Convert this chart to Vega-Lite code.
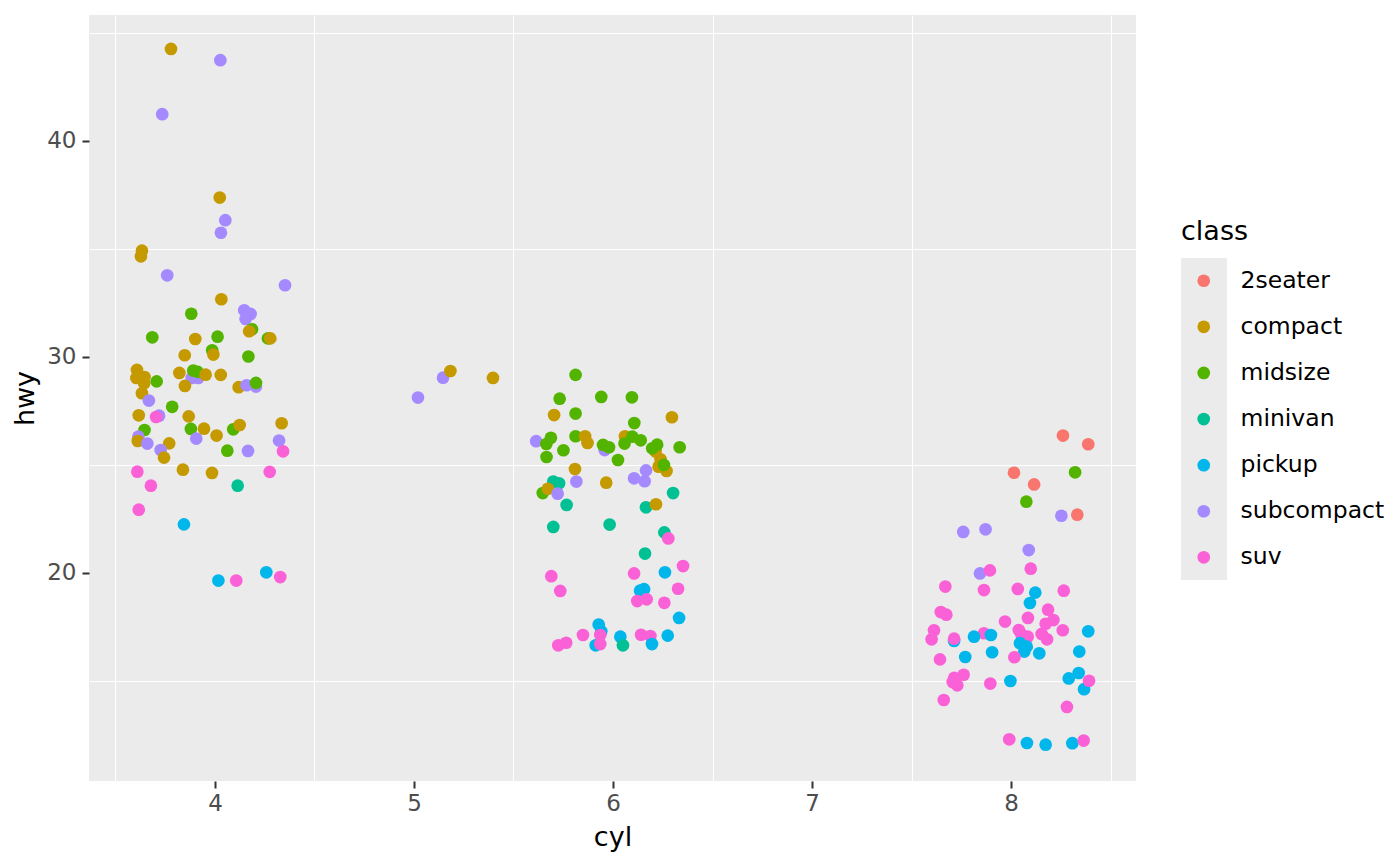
{
  "$schema": "https://vega.github.io/schema/vega-lite/v6.json",
  "width": 1047,
  "height": 766,
  "autosize": {"type": "none"},
  "padding": {"left": 89, "top": 15, "right": 264, "bottom": 85},
  "background": "white",
  "config": {
    "view": {"fill": "#EBEBEB", "stroke": null},
    "font": "DejaVu Sans",
    "axis": {
      "domain": false,
      "grid": true,
      "gridColor": "white",
      "gridWidth": 2,
      "tickColor": "#333333",
      "tickWidth": 2,
      "tickSize": 7,
      "labelColor": "#4D4D4D",
      "labelFontSize": 23,
      "titleFontSize": 27,
      "titleFontWeight": "normal",
      "titleColor": "black"
    }
  },
  "datasets": {
    "mpg": [
      {"class": "compact", "cyl": 3.779, "hwy": 44.26},
      {"class": "subcompact", "cyl": 4.027, "hwy": 43.74},
      {"class": "subcompact", "cyl": 3.735, "hwy": 41.24},
      {"class": "compact", "cyl": 4.024, "hwy": 37.38},
      {"class": "subcompact", "cyl": 4.052, "hwy": 36.33},
      {"class": "subcompact", "cyl": 4.030, "hwy": 35.75},
      {"class": "compact", "cyl": 3.633, "hwy": 34.92},
      {"class": "compact", "cyl": 3.628, "hwy": 34.66},
      {"class": "subcompact", "cyl": 3.760, "hwy": 33.78},
      {"class": "subcompact", "cyl": 4.352, "hwy": 33.32},
      {"class": "compact", "cyl": 4.032, "hwy": 32.67},
      {"class": "midsize", "cyl": 3.881, "hwy": 32.0},
      {"class": "subcompact", "cyl": 4.147, "hwy": 32.16},
      {"class": "subcompact", "cyl": 4.179, "hwy": 31.99},
      {"class": "subcompact", "cyl": 4.154, "hwy": 31.76},
      {"class": "midsize", "cyl": 4.186, "hwy": 31.28},
      {"class": "compact", "cyl": 4.172, "hwy": 31.19},
      {"class": "midsize", "cyl": 3.685, "hwy": 30.91},
      {"class": "compact", "cyl": 3.901, "hwy": 30.83},
      {"class": "midsize", "cyl": 4.013, "hwy": 30.94},
      {"class": "midsize", "cyl": 4.266, "hwy": 30.86},
      {"class": "compact", "cyl": 4.278, "hwy": 30.86},
      {"class": "compact", "cyl": 3.848, "hwy": 30.08},
      {"class": "midsize", "cyl": 3.986, "hwy": 30.31},
      {"class": "compact", "cyl": 3.992, "hwy": 30.11},
      {"class": "midsize", "cyl": 4.168, "hwy": 30.02},
      {"class": "compact", "cyl": 3.608, "hwy": 29.40},
      {"class": "compact", "cyl": 3.605, "hwy": 29.03},
      {"class": "compact", "cyl": 3.646, "hwy": 29.07},
      {"class": "compact", "cyl": 3.644, "hwy": 28.78},
      {"class": "compact", "cyl": 3.633, "hwy": 28.32},
      {"class": "midsize", "cyl": 3.707, "hwy": 28.87},
      {"class": "compact", "cyl": 3.821, "hwy": 29.26},
      {"class": "subcompact", "cyl": 3.883, "hwy": 29.03},
      {"class": "subcompact", "cyl": 3.916, "hwy": 29.03},
      {"class": "midsize", "cyl": 3.891, "hwy": 29.37},
      {"class": "midsize", "cyl": 3.913, "hwy": 29.31},
      {"class": "compact", "cyl": 3.953, "hwy": 29.18},
      {"class": "compact", "cyl": 4.029, "hwy": 29.17},
      {"class": "compact", "cyl": 3.849, "hwy": 28.66},
      {"class": "compact", "cyl": 4.119, "hwy": 28.60},
      {"class": "subcompact", "cyl": 4.159, "hwy": 28.69},
      {"class": "subcompact", "cyl": 4.206, "hwy": 28.63},
      {"class": "midsize", "cyl": 4.206, "hwy": 28.80},
      {"class": "subcompact", "cyl": 3.668, "hwy": 27.98},
      {"class": "midsize", "cyl": 3.785, "hwy": 27.69},
      {"class": "compact", "cyl": 3.617, "hwy": 27.30},
      {"class": "subcompact", "cyl": 3.719, "hwy": 27.28},
      {"class": "suv", "cyl": 3.704, "hwy": 27.22},
      {"class": "compact", "cyl": 3.868, "hwy": 27.25},
      {"class": "compact", "cyl": 4.335, "hwy": 26.93},
      {"class": "midsize", "cyl": 3.879, "hwy": 26.67},
      {"class": "compact", "cyl": 3.945, "hwy": 26.68},
      {"class": "midsize", "cyl": 4.092, "hwy": 26.65},
      {"class": "compact", "cyl": 4.124, "hwy": 26.85},
      {"class": "midsize", "cyl": 3.646, "hwy": 26.62},
      {"class": "subcompact", "cyl": 3.615, "hwy": 26.31},
      {"class": "compact", "cyl": 3.612, "hwy": 26.11},
      {"class": "subcompact", "cyl": 3.660, "hwy": 25.99},
      {"class": "compact", "cyl": 3.770, "hwy": 26.00},
      {"class": "subcompact", "cyl": 3.906, "hwy": 26.22},
      {"class": "compact", "cyl": 4.008, "hwy": 26.36},
      {"class": "subcompact", "cyl": 4.322, "hwy": 26.13},
      {"class": "midsize", "cyl": 4.062, "hwy": 25.66},
      {"class": "subcompact", "cyl": 4.166, "hwy": 25.65},
      {"class": "suv", "cyl": 4.342, "hwy": 25.63},
      {"class": "subcompact", "cyl": 3.727, "hwy": 25.69},
      {"class": "compact", "cyl": 3.744, "hwy": 25.34},
      {"class": "suv", "cyl": 3.610, "hwy": 24.69},
      {"class": "compact", "cyl": 3.839, "hwy": 24.78},
      {"class": "compact", "cyl": 3.985, "hwy": 24.63},
      {"class": "suv", "cyl": 4.275, "hwy": 24.68},
      {"class": "suv", "cyl": 3.678, "hwy": 24.04},
      {"class": "minivan", "cyl": 4.114, "hwy": 24.04},
      {"class": "suv", "cyl": 3.617, "hwy": 22.93},
      {"class": "pickup", "cyl": 3.844, "hwy": 22.25},
      {"class": "pickup", "cyl": 4.258, "hwy": 20.03},
      {"class": "suv", "cyl": 4.328, "hwy": 19.81},
      {"class": "pickup", "cyl": 4.017, "hwy": 19.65},
      {"class": "suv", "cyl": 4.107, "hwy": 19.65},
      {"class": "subcompact", "cyl": 5.020, "hwy": 28.12},
      {"class": "subcompact", "cyl": 5.146, "hwy": 29.04},
      {"class": "compact", "cyl": 5.183, "hwy": 29.35},
      {"class": "compact", "cyl": 5.397, "hwy": 29.03},
      {"class": "midsize", "cyl": 5.812, "hwy": 29.17},
      {"class": "midsize", "cyl": 5.732, "hwy": 28.07},
      {"class": "midsize", "cyl": 5.941, "hwy": 28.15},
      {"class": "midsize", "cyl": 6.095, "hwy": 28.13},
      {"class": "compact", "cyl": 5.704, "hwy": 27.31},
      {"class": "midsize", "cyl": 5.812, "hwy": 27.38},
      {"class": "compact", "cyl": 6.296, "hwy": 27.21},
      {"class": "midsize", "cyl": 6.107, "hwy": 26.94},
      {"class": "subcompact", "cyl": 5.614, "hwy": 26.10},
      {"class": "midsize", "cyl": 5.688, "hwy": 26.26},
      {"class": "midsize", "cyl": 5.665, "hwy": 25.97},
      {"class": "midsize", "cyl": 5.812, "hwy": 26.33},
      {"class": "compact", "cyl": 5.860, "hwy": 26.33},
      {"class": "compact", "cyl": 5.872, "hwy": 26.02},
      {"class": "midsize", "cyl": 5.751, "hwy": 25.68},
      {"class": "midsize", "cyl": 5.666, "hwy": 25.37},
      {"class": "subcompact", "cyl": 5.958, "hwy": 25.69},
      {"class": "midsize", "cyl": 5.950, "hwy": 25.93},
      {"class": "midsize", "cyl": 5.980, "hwy": 25.82},
      {"class": "compact", "cyl": 6.060, "hwy": 26.33},
      {"class": "midsize", "cyl": 6.058, "hwy": 25.99},
      {"class": "midsize", "cyl": 6.097, "hwy": 26.31},
      {"class": "midsize", "cyl": 6.139, "hwy": 26.14},
      {"class": "midsize", "cyl": 6.025, "hwy": 25.23},
      {"class": "compact", "cyl": 6.214, "hwy": 25.62},
      {"class": "compact", "cyl": 6.239, "hwy": 25.26},
      {"class": "compact", "cyl": 6.229, "hwy": 24.92},
      {"class": "compact", "cyl": 6.269, "hwy": 24.72},
      {"class": "midsize", "cyl": 6.197, "hwy": 25.77},
      {"class": "midsize", "cyl": 6.222, "hwy": 25.94},
      {"class": "midsize", "cyl": 6.256, "hwy": 25.00},
      {"class": "midsize", "cyl": 6.335, "hwy": 25.82},
      {"class": "compact", "cyl": 5.809, "hwy": 24.81},
      {"class": "subcompact", "cyl": 6.166, "hwy": 24.75},
      {"class": "subcompact", "cyl": 6.106, "hwy": 24.38},
      {"class": "subcompact", "cyl": 6.159, "hwy": 24.25},
      {"class": "subcompact", "cyl": 5.816, "hwy": 24.23},
      {"class": "compact", "cyl": 5.966, "hwy": 24.18},
      {"class": "minivan", "cyl": 5.700, "hwy": 24.23},
      {"class": "minivan", "cyl": 5.729, "hwy": 24.15},
      {"class": "midsize", "cyl": 5.647, "hwy": 23.70},
      {"class": "compact", "cyl": 5.673, "hwy": 23.90},
      {"class": "subcompact", "cyl": 5.722, "hwy": 23.67},
      {"class": "minivan", "cyl": 5.767, "hwy": 23.15},
      {"class": "minivan", "cyl": 6.302, "hwy": 23.70},
      {"class": "minivan", "cyl": 6.166, "hwy": 23.04},
      {"class": "compact", "cyl": 6.216, "hwy": 23.18},
      {"class": "minivan", "cyl": 5.700, "hwy": 22.13},
      {"class": "minivan", "cyl": 5.983, "hwy": 22.24},
      {"class": "minivan", "cyl": 6.258, "hwy": 21.88},
      {"class": "suv", "cyl": 6.278, "hwy": 21.60},
      {"class": "minivan", "cyl": 6.161, "hwy": 20.90},
      {"class": "suv", "cyl": 6.352, "hwy": 20.32},
      {"class": "pickup", "cyl": 6.261, "hwy": 20.03},
      {"class": "suv", "cyl": 6.106, "hwy": 19.98},
      {"class": "suv", "cyl": 5.690, "hwy": 19.85},
      {"class": "suv", "cyl": 5.735, "hwy": 19.17},
      {"class": "pickup", "cyl": 6.136, "hwy": 19.18},
      {"class": "pickup", "cyl": 6.156, "hwy": 19.25},
      {"class": "suv", "cyl": 6.327, "hwy": 19.27},
      {"class": "suv", "cyl": 6.122, "hwy": 18.70},
      {"class": "suv", "cyl": 6.169, "hwy": 18.78},
      {"class": "suv", "cyl": 6.258, "hwy": 18.62},
      {"class": "pickup", "cyl": 6.332, "hwy": 17.92},
      {"class": "pickup", "cyl": 5.928, "hwy": 17.61},
      {"class": "pickup", "cyl": 5.941, "hwy": 17.30},
      {"class": "suv", "cyl": 5.849, "hwy": 17.13},
      {"class": "suv", "cyl": 5.936, "hwy": 17.13},
      {"class": "pickup", "cyl": 6.037, "hwy": 17.05},
      {"class": "suv", "cyl": 6.141, "hwy": 17.14},
      {"class": "suv", "cyl": 6.188, "hwy": 17.08},
      {"class": "pickup", "cyl": 6.275, "hwy": 17.10},
      {"class": "suv", "cyl": 5.725, "hwy": 16.65},
      {"class": "suv", "cyl": 5.765, "hwy": 16.77},
      {"class": "pickup", "cyl": 5.913, "hwy": 16.65},
      {"class": "suv", "cyl": 5.936, "hwy": 16.71},
      {"class": "minivan", "cyl": 6.050, "hwy": 16.65},
      {"class": "pickup", "cyl": 6.196, "hwy": 16.71},
      {"class": "2seater", "cyl": 8.261, "hwy": 26.36},
      {"class": "2seater", "cyl": 8.388, "hwy": 25.96},
      {"class": "2seater", "cyl": 8.015, "hwy": 24.64},
      {"class": "midsize", "cyl": 8.322, "hwy": 24.66},
      {"class": "2seater", "cyl": 8.116, "hwy": 24.10},
      {"class": "midsize", "cyl": 8.077, "hwy": 23.30},
      {"class": "subcompact", "cyl": 8.253, "hwy": 22.65},
      {"class": "2seater", "cyl": 8.333, "hwy": 22.70},
      {"class": "subcompact", "cyl": 7.760, "hwy": 21.90},
      {"class": "subcompact", "cyl": 7.872, "hwy": 22.02},
      {"class": "subcompact", "cyl": 8.089, "hwy": 21.06},
      {"class": "suv", "cyl": 8.099, "hwy": 20.20},
      {"class": "subcompact", "cyl": 7.844, "hwy": 19.98},
      {"class": "suv", "cyl": 7.894, "hwy": 20.12},
      {"class": "suv", "cyl": 7.670, "hwy": 19.37},
      {"class": "suv", "cyl": 7.864, "hwy": 19.21},
      {"class": "suv", "cyl": 8.034, "hwy": 19.26},
      {"class": "pickup", "cyl": 8.122, "hwy": 19.09},
      {"class": "suv", "cyl": 8.265, "hwy": 19.18},
      {"class": "pickup", "cyl": 8.095, "hwy": 18.61},
      {"class": "suv", "cyl": 8.186, "hwy": 18.30},
      {"class": "suv", "cyl": 7.647, "hwy": 18.19},
      {"class": "suv", "cyl": 7.675, "hwy": 18.07},
      {"class": "suv", "cyl": 7.970, "hwy": 17.75},
      {"class": "suv", "cyl": 8.085, "hwy": 17.92},
      {"class": "suv", "cyl": 8.213, "hwy": 17.82},
      {"class": "suv", "cyl": 8.174, "hwy": 17.65},
      {"class": "suv", "cyl": 8.260, "hwy": 17.35},
      {"class": "pickup", "cyl": 8.388, "hwy": 17.30},
      {"class": "suv", "cyl": 7.613, "hwy": 17.35},
      {"class": "suv", "cyl": 7.601, "hwy": 16.93},
      {"class": "pickup", "cyl": 7.714, "hwy": 16.85},
      {"class": "suv", "cyl": 7.714, "hwy": 16.96},
      {"class": "suv", "cyl": 7.864, "hwy": 17.21},
      {"class": "pickup", "cyl": 7.814, "hwy": 17.05},
      {"class": "pickup", "cyl": 7.899, "hwy": 17.13},
      {"class": "suv", "cyl": 8.039, "hwy": 17.36},
      {"class": "suv", "cyl": 8.052, "hwy": 17.16},
      {"class": "suv", "cyl": 8.084, "hwy": 17.05},
      {"class": "suv", "cyl": 8.154, "hwy": 17.18},
      {"class": "suv", "cyl": 8.181, "hwy": 16.93},
      {"class": "pickup", "cyl": 8.045, "hwy": 16.75},
      {"class": "pickup", "cyl": 8.079, "hwy": 16.59},
      {"class": "pickup", "cyl": 8.067, "hwy": 16.36},
      {"class": "pickup", "cyl": 8.142, "hwy": 16.28},
      {"class": "pickup", "cyl": 8.343, "hwy": 16.36},
      {"class": "pickup", "cyl": 7.905, "hwy": 16.33},
      {"class": "pickup", "cyl": 7.770, "hwy": 16.11},
      {"class": "suv", "cyl": 7.643, "hwy": 16.00},
      {"class": "suv", "cyl": 8.017, "hwy": 16.10},
      {"class": "pickup", "cyl": 8.340, "hwy": 15.37},
      {"class": "pickup", "cyl": 8.290, "hwy": 15.12},
      {"class": "pickup", "cyl": 8.367, "hwy": 14.62},
      {"class": "suv", "cyl": 8.392, "hwy": 15.01},
      {"class": "suv", "cyl": 7.715, "hwy": 15.15},
      {"class": "suv", "cyl": 7.730, "hwy": 14.80},
      {"class": "suv", "cyl": 7.762, "hwy": 15.29},
      {"class": "suv", "cyl": 7.707, "hwy": 14.95},
      {"class": "suv", "cyl": 7.896, "hwy": 14.88},
      {"class": "pickup", "cyl": 7.997, "hwy": 15.00},
      {"class": "suv", "cyl": 7.662, "hwy": 14.12},
      {"class": "suv", "cyl": 8.281, "hwy": 13.80},
      {"class": "suv", "cyl": 7.991, "hwy": 12.30},
      {"class": "pickup", "cyl": 8.080, "hwy": 12.13},
      {"class": "pickup", "cyl": 8.174, "hwy": 12.05},
      {"class": "pickup", "cyl": 8.308, "hwy": 12.12},
      {"class": "suv", "cyl": 8.365, "hwy": 12.24}
    ]
  },
  "resolve": {
    "scale": {"x": "shared", "y": "shared"},
    "axis": {"x": "independent", "y": "independent"}
  },
  "layer": [
    {
      "data": {"name": "mpg"},
      "mark": {"type": "square", "opacity": 0},
      "encoding": {
        "x": {
          "field": "cyl",
          "type": "quantitative",
          "scale": {"domain": [3.367, 8.628], "nice": false, "zero": false},
          "axis": {
            "orient": "bottom",
            "values": [3.5, 4.5, 5.5, 6.5, 7.5, 8.5],
            "gridWidth": 1,
            "labels": false,
            "ticks": false,
            "title": null
          }
        },
        "y": {
          "field": "hwy",
          "type": "quantitative",
          "scale": {"domain": [10.37, 45.83], "nice": false, "zero": false},
          "axis": {
            "orient": "left",
            "values": [15, 25, 35, 45],
            "gridWidth": 1,
            "labels": false,
            "ticks": false,
            "title": null
          }
        },
        "fill": {
          "field": "class",
          "type": "nominal",
          "scale": {
            "domain": ["2seater", "compact", "midsize", "minivan", "pickup", "subcompact", "suv"],
            "range": ["#EBEBEB", "#EBEBEB", "#EBEBEB", "#EBEBEB", "#EBEBEB", "#EBEBEB", "#EBEBEB"]
          },
          "legend": {
            "orient": "none",
            "legendX": 1092,
            "legendY": 243,
            "title": null,
            "padding": 0,
            "symbolType": "square",
            "symbolSize": 2116,
            "symbolStrokeWidth": 0,
            "symbolOpacity": 1,
            "rowPadding": 0,
            "labelExpr": "''",
            "labelOpacity": 0,
            "labelFontSize": 10
          }
        }
      }
    },
    {
      "data": {"name": "mpg"},
      "mark": {"type": "circle", "opacity": 1, "size": 161},
      "encoding": {
        "x": {
          "field": "cyl",
          "type": "quantitative",
          "axis": {
            "orient": "bottom",
            "values": [4, 5, 6, 7, 8],
            "gridWidth": 2.2,
            "labelPadding": 4,
            "title": "cyl",
            "titlePadding": 9
          }
        },
        "y": {
          "field": "hwy",
          "type": "quantitative",
          "axis": {
            "orient": "left",
            "values": [20, 30, 40],
            "gridWidth": 2.2,
            "labelPadding": 6,
            "title": "hwy",
            "titlePadding": 7
          }
        },
        "color": {
          "field": "class",
          "type": "nominal",
          "scale": {
            "range": ["#F8766D", "#C49A00", "#53B400", "#00C094", "#00B6EB", "#A58AFF", "#FB61D7"]
          },
          "legend": {
            "orient": "none",
            "legendX": 1092,
            "legendY": 204,
            "title": "class",
            "titleFontSize": 27,
            "titleFontWeight": "normal",
            "titleColor": "black",
            "titlePadding": 23,
            "padding": 0,
            "symbolType": "circle",
            "symbolSize": 161,
            "symbolStrokeWidth": 0,
            "symbolOffset": 11,
            "labelOffset": 25,
            "labelFontSize": 23.5,
            "labelColor": "black",
            "rowPadding": 21.1
          }
        }
      }
    }
  ]
}
